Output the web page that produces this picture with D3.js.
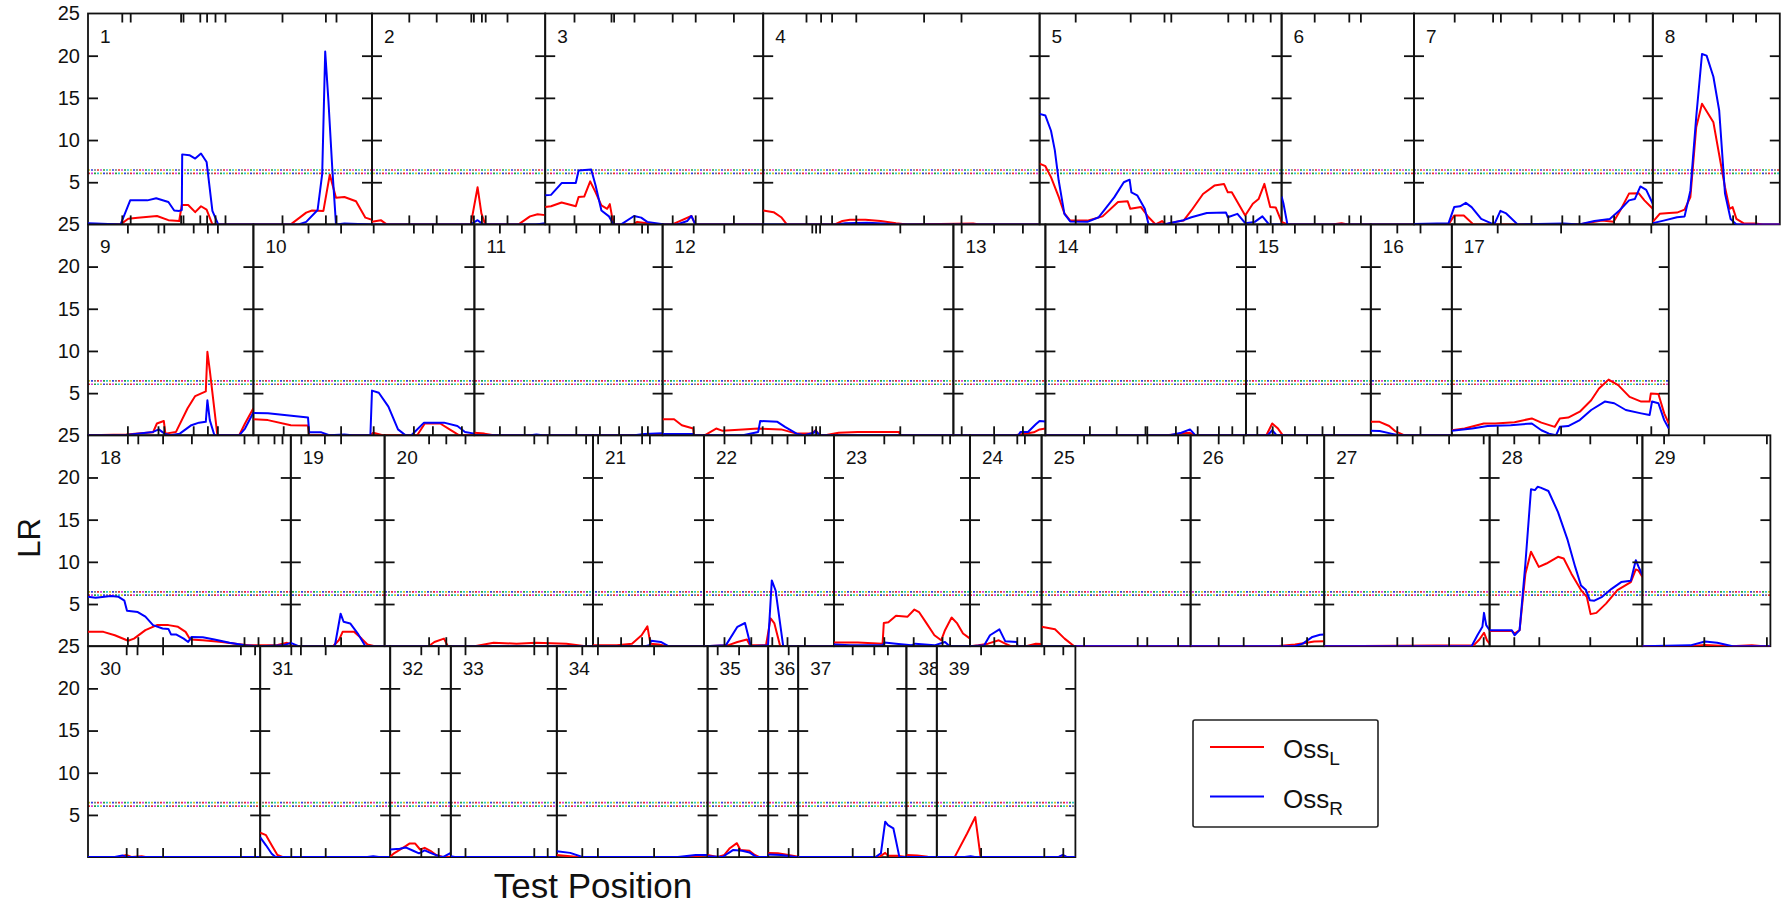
<!DOCTYPE html>
<html lang="en">
<head>
<meta charset="UTF-8">
<title>LR by test position</title>
<script src="https://d3js.org/d3.v7.min.js"></script>
<style>
  body { margin: 0; background: #fff; font-family: "Liberation Sans", Arial, sans-serif; }
  svg { display: block; }
</style>
</head>
<body>
<script>
// chromosome lengths (cM), in panel order
const chromLength = [142, 86.6, 109, 138.2, 121, 66.2, 119.4, 63.5,
  82.7, 110.5, 94.1, 145.4, 46, 100.3, 62.4, 40.5, 108.5,
  101.4, 46.9, 104.2, 55.5, 65, 68, 35.8, 74.5, 66.8, 82.7, 76.4, 64,
  86.1, 65, 30.3, 53, 75.4, 30.3, 15, 54.1, 15.2, 69.3];

// which chromosomes sit on each row
const rowChroms = [
  [1, 2, 3, 4, 5, 6, 7, 8],
  [9, 10, 11, 12, 13, 14, 15, 16, 17],
  [18, 19, 20, 21, 22, 23, 24, 25, 26, 27, 28, 29],
  [30, 31, 32, 33, 34, 35, 36, 37, 38, 39]
];

// LR profile for Oss_L, [position cM, LR] per chromosome
const ossL = [
  [[0,0],[16.3,0],[20.1,0.67],[24.9,0.8],[34.5,1.0],[40.2,0.5],[45.6,0.4],[46.9,2.3],[50.1,2.3],[53.6,1.45],[56.5,2.15],[59.3,1.75],[62.2,0],[101.4,0],[109.1,1.4],[112,1.65],[117.7,1.6],[120.9,5.9],[124,3.15],[128.2,3.25],[134,2.75],[138.7,0.8],[142,0.55]],
  [[0,0.3],[4.4,0.5],[7.3,0],[49.4,0],[52.8,4.4],[54.7,1.3],[56.6,0],[73.3,0],[79,0.95],[82.8,1.2],[86.6,1.1]],
  [[0,2.05],[2.9,2.15],[8.2,2.6],[15.3,2.15],[16.7,3.25],[19.5,3.3],[22.5,5.1],[25.2,3.8],[28.1,2.25],[31,1.85],[32.3,2.4],[33.4,0.95],[34.5,0],[44,0],[46,0.3],[51,0.15],[52,0],[63.5,0],[66.4,0.3],[73.1,1.0],[75,0],[109,0]],
  [[0,1.65],[5.2,1.45],[9,0.85],[11.8,0],[35.8,0],[39.6,0.4],[43.4,0.55],[51.1,0.55],[58.7,0.4],[66.4,0.15],[72,0],[105,0.1],[108,0],[138.2,0]],
  [[0,7.2],[2.9,6.9],[5.7,5.6],[9.55,3.25],[12.4,1.3],[15.3,0.45],[23.9,0.45],[31.5,0.95],[39.2,2.65],[44,2.75],[45.35,1.85],[50.7,2.05],[54.5,0.85],[58,0],[61.2,0.4],[63.1,0],[67.9,0.3],[72,0.45],[75.9,1.65],[81.7,3.6],[87.4,4.6],[92.2,4.8],[94.1,3.8],[96.1,3.8],[102.8,1.05],[106.6,2.45],[109.5,3.0],[112.4,4.8],[115.3,2.05],[118.1,2.0],[121,0.3]],
  [[0,0.3],[3,0],[25,0],[30,0.15],[33,0],[66.2,0]],
  [[0,0],[17.3,0],[20.1,1.05],[24.9,1.05],[29.7,0],[82.5,0],[94,0.45],[99.8,0.3],[103.6,1.85],[107.5,3.65],[112.3,3.7],[115.2,2.85],[119.4,1.85]],
  [[0,0.3],[3.45,1.25],[8.2,1.35],[12.1,1.4],[15.9,1.75],[18.8,3.25],[21.7,11.5],[24.6,14.3],[30.3,12.1],[36.1,4.4],[38.4,1.85],[39.9,2.05],[41.8,0.65],[45.7,0.1],[51.4,0.1],[55,0],[63.5,0]],
  [[0,0],[19.1,0.1],[32.5,0.35],[34.45,1.4],[37.9,1.7],[38.7,0.2],[44,0.4],[49.8,3.2],[53.6,4.65],[58.9,5.2],[59.7,9.9],[60.9,7.7],[64.7,0],[75.6,0],[78.5,1.4],[82.7,3.2]],
  [[0,1.9],[7.25,1.8],[18.7,1.2],[27.3,1.15],[27.9,0],[58.5,0],[59.9,0.3],[64.65,0],[81.9,0],[85.7,1.4],[93.4,1.4],[98.1,0.7],[102.9,0],[110.5,0]],
  [[0,0.3],[5,0.2],[9.6,0],[94.1,0]],
  [[0,1.9],[5.75,1.9],[9.6,1.2],[15.3,0.8],[15.7,0],[21,0],[26.8,0.8],[29.7,0.55],[40.2,0.7],[47.8,0.8],[59.3,0.7],[67,0.2],[74.6,0.2],[76.5,0.6],[78.5,0],[81.3,0],[88,0.3],[97.6,0.4],[118.3,0.4],[118.6,0],[145.4,0]],
  [[0,0],[30.6,0],[36.4,0.2],[40.2,0.35],[43.1,0.7],[46,0.8]],
  [[0,0],[60,0],[65,0.1],[68,0.2],[72,0.3],[75,0],[100.3,0]],
  [[0,0],[10.2,0],[13.1,1.4],[16,0.8],[18.4,0],[62.4,0]],
  [[0,1.6],[4.4,1.6],[9.2,1.1],[12.1,0.5],[16.9,0],[40.5,0]],
  [[0,0.6],[6.4,0.8],[16,1.4],[21.7,1.4],[31.35,1.55],[40,2.0],[44.8,1.5],[51.5,1.0],[54,2.0],[58.2,2.1],[64,2.8],[69.7,4.15],[73.6,5.55],[78.4,6.6],[83.2,5.95],[88.9,4.55],[94.7,4.0],[98.9,4.0],[99.5,4.95],[103.3,4.9],[106.2,2.6],[108.5,1.4]],
  [[0,1.7],[7.7,1.7],[13.4,1.3],[20.1,0.65],[23,0.9],[28.7,1.9],[34.45,2.5],[40.2,2.5],[45,2.3],[48.8,1.7],[51.1,0.8],[57.4,0.7],[67,0.5],[74.6,0.25],[80.4,0.1],[93.8,0.1],[99.5,0.4],[101.4,0.25]],
  [[0,0],[21.1,0],[24,0.7],[25.9,1.7],[31.6,1.7],[35.4,0.9],[38.3,0.2],[42,0],[46.9,0]],
  [[0,0],[22,0],[24.9,0.5],[29.7,0.9],[31.6,0],[45,0],[54.5,0.4],[66,0.3],[75.6,0.4],[90.9,0.3],[100.5,0],[104.2,0]],
  [[0,0.1],[11.9,0.1],[19.5,0.3],[24.3,1.3],[27.2,2.35],[28.7,0.3],[33,0.2],[36.8,0],[55.5,0]],
  [[0,0],[11.9,0.1],[16.7,0.5],[21.45,0.8],[23,0.1],[31,0.1],[33.3,3.3],[35.2,2.7],[38.1,0],[65,0]],
  [[0,0.45],[11.9,0.45],[24.3,0.3],[24.9,2.75],[27.2,2.85],[31,3.6],[36.8,3.5],[40.2,4.35],[42.5,4.05],[46.3,2.7],[50.2,1.3],[53.6,0.7],[55.5,1.9],[58.8,3.4],[61.6,2.7],[64.5,1.5],[68,0.9]],
  [[0,0],[4.2,0.1],[9,0.3],[14.4,0.7],[17.6,0.3],[20.5,0],[28.1,0],[32.9,0.3],[35.8,0.25]],
  [[0,2.3],[6.7,2.0],[11.5,0.9],[16.3,0],[74.5,0]],
  [[0,0],[42.6,0],[52.2,0.2],[58,0.4],[61.8,0.55],[66.8,0.6]],
  [[0,0],[74.7,0.1],[77.6,0.8],[79.9,1.6],[81.4,0.7],[82.7,0.3]],
  [[0,1.8],[11.1,1.8],[12.5,1.5],[15,1.9],[17.9,8.6],[20.7,11.2],[24.6,9.4],[28.4,9.8],[34.2,10.6],[37.05,10.4],[40.9,8.6],[45.7,6.65],[48.6,5.85],[50.5,3.8],[53.4,3.95],[58.2,5.05],[63.9,6.65],[70.6,7.6],[73.1,9.1],[74.5,8.95],[76.4,8.2]],
  [[0,0],[24,0],[31.3,0.15],[44.2,0],[54.7,0.1],[60.5,0],[64,0]],
  [[0,0],[15.3,0],[19.1,0.25],[22,0],[26.8,0.1],[28.7,0],[86.1,0]],
  [[0,2.9],[2.9,2.6],[5.75,1.4],[8.6,0.25],[11.5,0],[65,0]],
  [[0,0.05],[1.9,0.45],[7.7,1.3],[9.6,1.6],[12.5,1.6],[14.95,0.9],[17.25,1.1],[20.1,0.75],[23,0.25],[25.9,0.05],[30.3,0]],
  [[0,0],[53,0]],
  [[0,0.25],[6.7,0.1],[10.5,0],[66,0],[70,0.1],[75.4,0.25]],
  [[0,0.25],[4.8,0],[8.4,0.25],[11.1,1.05],[14.65,1.65],[16.4,0.85],[20.9,0.75],[23.6,0.25],[26,0],[30.3,0]],
  [[0,0.5],[4.8,0.45],[10.1,0.25],[15,0.05]],
  [[0,0],[40.45,0],[43.5,0.5],[44.9,0.15],[49.4,0.15],[54.1,0]],
  [[0,0.25],[5.4,0.2],[10.7,0.05],[15.2,0]],
  [[0,0],[8.9,0],[15.15,2.8],[19.25,4.75],[21.9,0],[60.7,0],[63,0.2],[65.1,0],[69.3,0]]
];

// LR profile for Oss_R
const ossR = [
  [[0,0.15],[3.8,0.1],[16.3,0],[21.1,2.85],[29.7,2.85],[34.1,3.1],[40.2,2.65],[43.1,1.65],[45.6,1.6],[46.9,1.7],[47.1,8.3],[50.7,8.2],[53.6,7.8],[56.5,8.4],[59.3,7.4],[62.2,1.6],[65.1,0],[105.3,0],[109.1,0.3],[114.8,1.7],[117.1,6.0],[118.6,20.5],[120.2,14.7],[122.1,6.8],[124,0],[128.2,0.1],[142,0]],
  [[0,0],[49.4,0],[52.8,0.5],[55.5,0],[82,0],[86.6,0.15]],
  [[0,3.45],[2.9,3.5],[8.2,4.9],[15.3,4.9],[16.7,6.4],[23,6.5],[25.2,4.6],[28.1,1.65],[31.9,0.95],[34.2,0],[38,0],[44.4,1.0],[48,0.8],[51,0.3],[59.7,0],[66,0],[71,0.4],[73.1,1.0],[75,0],[109,0]],
  [[0,0],[37,0],[41,0.15],[52,0.2],[60,0.1],[66,0],[138.2,0]],
  [[0,13.1],[2.9,12.9],[5.7,11.1],[7.6,8.8],[9.55,5.2],[12.4,1.25],[15.3,0.35],[23.9,0.3],[29.6,0.85],[37.3,3.2],[42.1,5.0],[45,5.3],[45.9,3.8],[48.8,3.45],[52.6,1.85],[54.5,0],[62,0],[66,0.2],[72,0.5],[75.9,0.85],[83.6,1.35],[93.2,1.4],[94.1,0.85],[98.9,1.25],[102.8,0.15],[107.6,0.3],[111.4,0.95],[114.7,0],[121,0]],
  [[0,3.3],[0.9,2.5],[2.9,0],[66.2,0]],
  [[0,0.05],[17.3,0.15],[20.1,2.05],[23,2.15],[25.9,2.55],[28.8,2.05],[33.6,0.65],[38.4,0.15],[40.3,0.1],[43.2,1.6],[46.1,1.3],[51.8,0],[74.9,0.1],[82.5,0],[90.2,0.4],[97.9,0.65],[102.7,1.65],[107.5,2.85],[110.4,3.0],[113.2,4.5],[116.1,4.1],[119.4,2.45]],
  [[0,0.15],[5.4,0.45],[12.1,0.85],[15.9,0.95],[18.8,4.0],[21.7,12.7],[24.6,20.2],[26.9,20.0],[30.3,17.5],[33.2,13.5],[36.1,3.65],[38.9,0.65],[41.8,0],[63.5,0]],
  [[0,0],[19.1,0.05],[32.5,0.4],[35.4,0.7],[38.3,0.2],[41.2,0],[45.9,0.2],[51.7,1.2],[55.5,1.5],[58.9,1.6],[59.7,4.15],[60.9,1.8],[63.2,0],[75.6,0],[78.5,0.8],[82.7,2.7]],
  [[0,2.65],[7.25,2.6],[27.3,2.1],[27.9,0.35],[34,0.35],[37.9,0],[45.5,0.1],[49.3,0],[58.5,0],[59.3,5.3],[62.7,5.05],[67.5,3.4],[72.3,0.7],[76.1,0],[79,0],[85.3,1.5],[95.3,1.5],[102,1.1],[105.8,0.4],[110.5,0.2]],
  [[0,0],[28,0],[31,0.1],[34,0],[80,0],[85,0.15],[94.1,0.25]],
  [[0,0.15],[15.3,0.15],[16.3,0],[40.2,0],[47.8,0.4],[48.8,1.7],[57.4,1.6],[61.2,1.0],[67,0.2],[70.8,0],[75.6,0.3],[76.5,0.55],[78.5,0],[145.4,0]],
  [[0,0],[32.5,0],[33.5,0.4],[37.3,0.4],[41.2,1.3],[43.1,1.7],[46,1.65]],
  [[0,0],[62,0],[68,0.3],[72.3,0.7],[73.1,0.5],[75,0],[100.3,0]],
  [[0,0],[10.8,0],[13.1,0.6],[15.4,0],[62.4,0]],
  [[0,0.55],[4.4,0.5],[10.2,0.2],[14,0],[40.5,0]],
  [[0,0.55],[10.2,0.8],[17.9,1.1],[29.4,1.2],[40,1.4],[44.8,0.6],[48.6,0.2],[52.1,0],[54,1.0],[58.2,1.1],[64,1.8],[69.7,3.0],[76.5,4.0],[81.2,3.8],[87,3.0],[94.7,2.6],[98.9,2.4],[100.1,4.0],[103.3,3.8],[106.2,1.8],[108.5,0.8]],
  [[0,5.85],[3.8,5.75],[11.5,5.95],[15.3,5.85],[18.2,5.4],[19.5,4.2],[24.9,4.05],[28.7,3.5],[32.5,2.5],[37.3,2.1],[40.2,2.05],[41.5,1.4],[44,1.4],[47.85,0.9],[50.1,0.5],[51.7,1.1],[57.4,1.05],[63.2,0.8],[70.8,0.4],[78.5,0.1],[86.1,0],[97.6,0.1],[101.4,0.4]],
  [[0,0.4],[3.85,0],[22,0],[24.9,3.85],[26.4,2.9],[29.7,2.7],[33.5,1.5],[37.3,0],[46.9,0]],
  [[0,0],[104.2,0]],
  [[0,0],[26,0],[28.2,0.1],[29.1,0.65],[33.9,0.5],[37.7,0],[55.5,0]],
  [[0,0],[10.9,0.1],[16.7,2.3],[20.5,2.75],[23.4,0],[32,0.1],[33.9,7.8],[35.8,6.6],[39.6,0],[65,0]],
  [[0,0.2],[8.1,0.1],[24.3,0.1],[25.3,0.45],[31,0.3],[38.7,0.1],[40.6,0.3],[50.2,0.1],[55.5,0.5],[57.8,0],[68,0]],
  [[0,0],[7.1,0.1],[10,1.3],[14.7,2.0],[17.6,0.6],[23.4,0.5],[23.7,0],[35.8,0]],
  [[0,0],[74.5,0]],
  [[0,0],[52.2,0],[56.1,0.3],[60.9,1.1],[64.7,1.35],[66.8,1.4]],
  [[0,0],[73.7,0],[76.6,1.3],[79.1,2.3],[79.9,3.95],[81,2.5],[82.7,1.9]],
  [[0,1.9],[11.1,1.9],[12.5,1.3],[15,1.9],[17.9,9.8],[20.7,18.6],[22.65,18.5],[24,18.9],[25.5,18.8],[29.4,18.4],[34.2,15.9],[39,12.6],[42.8,9.4],[45.7,7.2],[48.2,6.65],[50.1,5.45],[52.4,5.4],[56.25,5.85],[61,6.8],[65.8,7.6],[70.6,7.75],[73.1,10.2],[74.5,9.4],[76.4,8.4]],
  [[0,0],[24,0.1],[31.3,0.55],[37.4,0.4],[45.1,0],[64,0]],
  [[0,0],[13.4,0],[17.2,0.2],[20.1,0],[86.1,0]],
  [[0,2.35],[2.9,1.4],[5.75,0.4],[7.7,0],[53.6,0],[56.5,0.1],[59.3,0],[65,0]],
  [[0,0.9],[4.8,1.0],[7.7,1.15],[11.5,0.75],[14.4,0.45],[17.25,0.8],[20.1,0.5],[24.9,0.05],[26.8,0.05],[30.3,0.5]],
  [[0,0.1],[2,0],[53,0]],
  [[0,0.7],[6.7,0.5],[12.4,0.05],[60.5,0],[69.4,0.25],[75.4,0.25]],
  [[0,0.1],[7.5,0],[10.2,0.45],[12.85,0.85],[17.3,0.75],[20.9,0.55],[24.45,0],[30.3,0]],
  [[0,0.3],[6.6,0.25],[13.7,0],[15,0]],
  [[0,0],[38.65,0],[41.35,0.45],[43.5,4.2],[44.9,3.8],[47.6,3.4],[48.85,2.0],[50.6,0],[54.1,0]],
  [[0,0],[15.2,0]],
  [[0,0],[14,0],[16.9,0.1],[19,0],[60.7,0],[63,0.25],[65.1,0],[69.3,0]]
];

// marker positions (cM) shown as ticks on the top and bottom of each panel
const markers = [
  [16.9, 21.1, 46.3, 47.5, 55.9, 59.3, 63.5, 68.5, 97, 118.7, 124],
  [18.4, 32.1, 49.4, 50.7, 54.7, 56.6, 67.5],
  [14.4, 32.9, 34.2, 44.4, 63.5, 75, 94.1],
  [21.4, 28.7, 34.2, 46.3, 80.2, 98.9],
  [17.8, 45.3, 62.2, 65.6, 94.1, 102.8, 106.6, 115.3],
  [16.3, 33.6, 39.4],
  [20.1, 39.3, 43.2, 58.5, 73.9, 82.5, 99.8, 107.5],
  [26.5, 39.9, 51.4],
  [19.7, 35, 37.9, 52.6, 59.7, 64.7],
  [14.9, 27.3, 43.6, 59.9, 80, 89.5, 104],
  [12.5, 24.9, 37.3, 50.7, 62.5, 72.1, 83.6, 86.5],
  [15.3, 30.6, 49.8, 74.6, 76.5, 78.5, 118.6],
  [3.9, 20.1, 34.5],
  [22, 35.4, 49.8, 50.7, 65, 75.9, 86.5, 93.2],
  [5.4, 13.1, 24.2, 38, 43.8],
  [13, 24.6],
  [22.7, 54.4, 99.5],
  [19.7, 24.9, 37.3, 51.7, 78, 85, 93, 97],
  [5, 16.8, 24.9],
  [22, 30.6, 40.2, 74.6, 81.3, 100.5],
  [2.3, 13.8, 24.3, 28.2],
  [10, 23.4, 33.9, 41.5, 50.2],
  [24.9, 39.6, 54, 57.8],
  [11.9, 23.4, 27.2],
  [21, 47.8, 52.6, 68],
  [13.8, 26.3, 45.5, 58],
  [36.3, 44, 62.2, 79.5],
  [12.1, 24.6, 50.1, 73.5],
  [10.6, 30.7, 62],
  [19.1, 24.5, 37.3, 76.2, 83.3],
  [15.3, 20.1, 32.5],
  [15.3, 24],
  [7.1, 41.5, 48.2],
  [12.5, 20.3, 48.4],
  [4.8, 15.5],
  [10],
  [27, 37.8, 44.6],
  [],
  [21.9, 53.5, 63]
];

const yTicks = [5, 10, 15, 20, 25];
const innerTicks = [5, 10, 15, 20];
const thresholds = [6.05, 6.45];
const thresholdColours = ["#e8302e", "#d83fd8", "#2e9e3a", "#2cc6c6", "#c9c42c", "#3142e0", "#7a7a7a"];
const seriesNames = ["L", "R"];
const seriesColours = ["#ff0000", "#0000ff"];
const labelShift = { 36: -6 };   // narrow panel, label nudged left

const width = 1782, height = 906;
const plotLeft = 88, plotTop = 13.5, rowH = 210.9;

const svg = d3.select("body").append("svg")
  .attr("width", width)
  .attr("height", height);
const defs = svg.append("defs");

// cM -> px, same for every row
const kx = d3.scaleLinear().domain([0, 846]).range([0, 1692]);

rowChroms.forEach((chroms, r) => {
  const y = d3.scaleLinear().domain([0, 25])
    .range([plotTop + (r + 1) * rowH, plotTop + r * rowH]);
  const rowLen = d3.sum(chroms, c => chromLength[c - 1]);
  const rowG = svg.append("g");

  // threshold lines, many traits dotted on top of each other
  thresholds.forEach((t, ti) => {
    thresholdColours.forEach((col, ci) => {
      rowG.append("line")
        .attr("x1", plotLeft).attr("x2", plotLeft + kx(rowLen))
        .attr("y1", y(t)).attr("y2", y(t))
        .attr("stroke", col)
        .attr("stroke-width", 1.7)
        .attr("stroke-dasharray", "2 19")
        .attr("stroke-dashoffset", -((ci * 3 + ti * 9) % 21));
    });
  });

  // LR tick labels on the far left
  const yAxis = rowG.append("g")
    .attr("transform", `translate(${plotLeft},0)`)
    .call(d3.axisLeft(y).tickValues(yTicks).tickSize(0).tickPadding(8));
  yAxis.select(".domain").remove();
  yAxis.selectAll("text")
    .attr("font-size", 20)
    .attr("font-family", "Liberation Sans, Arial, sans-serif")
    .attr("fill", "#111");

  let offset = 0;
  chroms.forEach(c => {
    const len = chromLength[c - 1];
    const left = plotLeft + kx(offset);
    const w = kx(len);
    offset += len;
    const xs = d3.scaleLinear().domain([0, len]).range([0, w]);
    const g = rowG.append("g").attr("transform", `translate(${left},0)`);

    const clipId = "clip" + c;
    defs.append("clipPath").attr("id", clipId)
      .append("rect")
      .attr("x", 0).attr("y", y(25))
      .attr("width", w).attr("height", y(0) - y(25));

    g.append("rect")
      .attr("x", 0).attr("y", y(25))
      .attr("width", w).attr("height", y(0) - y(25))
      .attr("fill", "none")
      .attr("stroke", "#111")
      .attr("stroke-width", 1.8);

    const line = d3.line().x(d => xs(d[0])).y(d => y(d[1]));
    const lines = g.append("g").attr("clip-path", `url(#${clipId})`);
    [ossL, ossR].forEach((series, si) => {
      lines.append("path")
        .datum(series[c - 1])
        .attr("d", line)
        .attr("fill", "none")
        .attr("stroke", seriesColours[si])
        .attr("stroke-width", 2)
        .attr("stroke-linejoin", "round");
    });

    // inward LR ticks on both sides
    const left_ = g.append("g")
      .call(d3.axisRight(y).tickValues(innerTicks).tickSize(10).tickFormat(""));
    const right_ = g.append("g")
      .attr("transform", `translate(${w},0)`)
      .call(d3.axisLeft(y).tickValues(innerTicks).tickSize(10).tickFormat(""));

    // marker ticks top and bottom
    const top_ = g.append("g")
      .attr("transform", `translate(0,${y(25)})`)
      .call(d3.axisBottom(xs).tickValues(markers[c - 1]).tickSize(9).tickFormat(""));
    const bot_ = g.append("g")
      .attr("transform", `translate(0,${y(0)})`)
      .call(d3.axisTop(xs).tickValues(markers[c - 1]).tickSize(9).tickFormat(""));

    [left_, right_, top_, bot_].forEach(a => {
      a.select(".domain").remove();
      a.selectAll("line").attr("stroke", "#111").attr("stroke-width", 1.8);
    });

    g.append("text")
      .attr("clip-path", `url(#${clipId})`)
      .attr("x", 12 + (labelShift[c] || 0))
      .attr("y", y(25) + 29)
      .attr("font-size", 19)
      .attr("fill", "#111")
      .text(c);
  });
});

// axis titles
svg.append("text")
  .attr("transform", "translate(40,538) rotate(-90)")
  .attr("text-anchor", "middle")
  .attr("font-size", 31)
  .attr("fill", "#111")
  .text("LR");

svg.append("text")
  .attr("x", 593)
  .attr("y", 898)
  .attr("text-anchor", "middle")
  .attr("font-size", 35)
  .attr("fill", "#111")
  .text("Test Position");

// legend
const legend = svg.append("g");
legend.append("rect")
  .attr("x", 1193).attr("y", 720)
  .attr("width", 185).attr("height", 107)
  .attr("rx", 2)
  .attr("fill", "#fff")
  .attr("stroke", "#222")
  .attr("stroke-width", 1.6);

seriesNames.forEach((name, i) => {
  const ly = 747 + i * 49.5;
  legend.append("line")
    .attr("x1", 1210).attr("x2", 1264)
    .attr("y1", ly).attr("y2", ly)
    .attr("stroke", seriesColours[i])
    .attr("stroke-width", 1.8);
  const t = legend.append("text")
    .attr("x", 1283)
    .attr("y", ly + 11)
    .attr("font-size", 26)
    .attr("fill", "#111");
  t.append("tspan").text("Oss");
  t.append("tspan").attr("dy", 7).attr("font-size", 19).text(name);
});
</script>
</body>
</html>
